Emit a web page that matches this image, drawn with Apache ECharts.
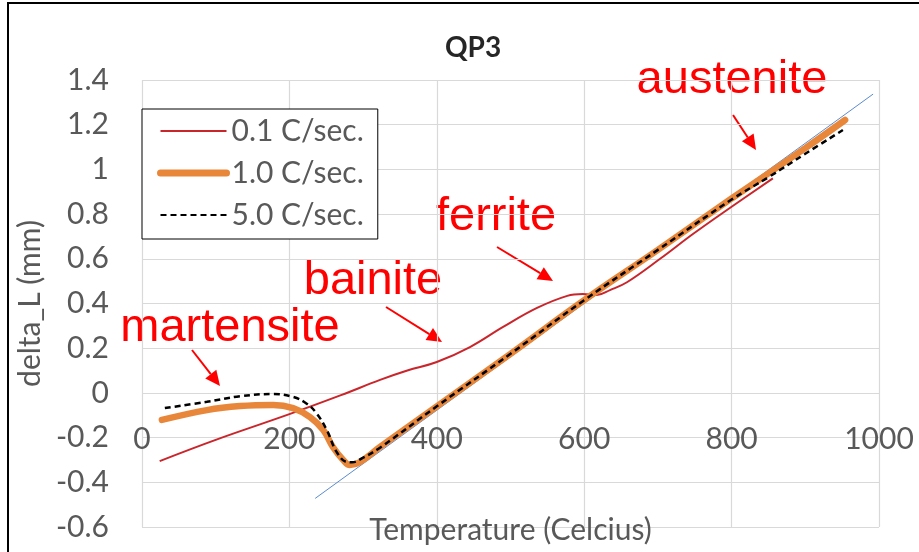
<!DOCTYPE html>
<html>
<head>
<meta charset="utf-8">
<script src="https://cdn.jsdelivr.net/npm/echarts@6/dist/echarts.min.js"></script>
<style>
  html, body { margin: 0; padding: 0; background: #fff; }
  #chart-container { width: 919px; height: 552px; }
</style>
</head>
<body>
<div id="chart-container"></div>
<script>
// [temperature, delta_L]
var rate01 = [
  [24, -0.305], [100, -0.21], [200, -0.095], [270, -0.01], [323, 0.058],
  [360, 0.1], [400, 0.138], [445, 0.205], [490, 0.295], [536, 0.38],
  [577, 0.434], [598, 0.442], [617, 0.438], [635, 0.46], [658, 0.495],
  [703, 0.6], [748, 0.712], [800, 0.833], [856, 0.96]
];
var rate10 = [
  [27, -0.121], [88, -0.077], [133, -0.059], [178, -0.054], [205, -0.068],
  [228, -0.108], [246, -0.166], [259, -0.242], [273, -0.3], [282, -0.323],
  [296, -0.309], [323, -0.242], [400, -0.06], [500, 0.175], [600, 0.415],
  [700, 0.64], [800, 0.87], [900, 1.095], [954, 1.221]
];
var rate50 = [
  [31, -0.068], [88, -0.04], [133, -0.015], [178, -0.005], [205, -0.018],
  [223, -0.047], [237, -0.092], [251, -0.168], [264, -0.264], [278, -0.309],
  [285, -0.31], [300, -0.29], [323, -0.245], [400, -0.06], [500, 0.175],
  [600, 0.415], [700, 0.64], [800, 0.865], [850, 0.965], [900, 1.07], [951, 1.176]
];
var refLine = [[235, -0.472], [992, 1.337]];
var seriesNames = ["0.1 C/sec.", "1.0 C/sec.", "5.0 C/sec."];

var dom = document.getElementById("chart-container");
var myChart = echarts.init(dom, null, { renderer: "canvas" });

var axisFont = "Lato";
var grey = "#595959";
var gridGrey = "#d9d9d9";

// red phase labels with arrows (pixel positions)
function arrow(x1, y1, x2, y2) {
  var ang = Math.atan2(y2 - y1, x2 - x1);
  var len = 15, half = 7;
  var bx = x2 - len * Math.cos(ang), by = y2 - len * Math.sin(ang);
  var px = -Math.sin(ang) * half, py = Math.cos(ang) * half;
  return [
    { type: "line", shape: { x1: x1, y1: y1, x2: bx, y2: by }, style: { stroke: "#ff0000", lineWidth: 2 } },
    { type: "polygon", shape: { points: [[x2, y2], [bx + px, by + py], [bx - px, by - py]] }, style: { fill: "#ff0000" } }
  ];
}
function label(txt, x, y) {
  return {
    type: "text", x: x, y: y,
    style: { text: txt, fill: "#ff0000", font: '47px "Liberation Sans"', align: "center", verticalAlign: "middle" }
  };
}

var graphics = [
  { type: "rect", shape: { x: 8, y: 3, width: 1000, height: 1000 }, style: { fill: null, stroke: "#000", lineWidth: 2 }, silent: true },
  label("austenite", 732, 80),
  label("ferrite", 496, 217),
  label("bainite", 373, 281),
  label("martensite", 230, 328)
]
  .concat(arrow(733, 115, 756, 150))
  .concat(arrow(497, 247, 553, 281))
  .concat(arrow(386, 307, 442, 342))
  .concat(arrow(192, 350, 220, 386));

var option = {
  animation: false,
  backgroundColor: "#fff",
  title: {
    text: "QP3",
    left: 440,
    top: 29,
    textStyle: { fontFamily: axisFont, fontWeight: "bold", fontSize: 28, color: "#262626" }
  },
  legend: {
    data: [
      { name: seriesNames[0], lineStyle: { width: 2 } },
      { name: seriesNames[1], lineStyle: { width: 7 } },
      { name: seriesNames[2], lineStyle: { width: 2 } }
    ],
    orient: "vertical",
    left: 142,
    top: 109,
    backgroundColor: "#fff",
    borderColor: "#000",
    borderWidth: 1,
    borderRadius: 0,
    padding: [7, 14, 9, 15],
    itemWidth: 66,
    itemHeight: 29,
    itemGap: 12,
    itemStyle: { opacity: 0 },
    textStyle: { fontFamily: axisFont, fontSize: 30, color: grey }
  },
  grid: { left: 142, top: 80, width: 737, height: 447, containLabel: false, outerBoundsMode: "none" },
  xAxis: {
    type: "value",
    position: "bottom",
    offset: -134,
    min: 0,
    max: 1000,
    interval: 200,
    name: "Temperature (Celcius)",
    nameLocation: "middle",
    nameGap: 122,
    nameTextStyle: { fontFamily: axisFont, fontSize: 30, color: grey },
    axisLine: { show: false, onZero: false },
    axisTick: { show: false },
    axisLabel: {
      fontFamily: axisFont, fontSize: 30, color: grey, margin: 31,
      formatter: function (v) { return String(v); }
    },
    splitLine: { show: true, lineStyle: { color: gridGrey, width: 1.2 } }
  },
  yAxis: {
    type: "value",
    min: -0.6,
    max: 1.4,
    interval: 0.2,
    name: "delta_L (mm)",
    nameLocation: "middle",
    nameGap: 94,
    nameTextStyle: { fontFamily: axisFont, fontSize: 30, color: grey },
    axisLine: { show: false },
    axisTick: { show: false },
    axisLabel: { fontFamily: axisFont, fontSize: 30, color: grey, margin: 33 },
    splitLine: { show: true, lineStyle: { color: gridGrey, width: 1.2 } }
  },
  series: [
    {
      name: "trend",
      type: "line",
      data: refLine,
      symbol: "none",
      lineStyle: { color: "#5b8bd0", width: 1 },
      z: 1
    },
    {
      name: seriesNames[0],
      type: "line",
      data: rate01,
      symbol: "none",
      smooth: 0.4,
      color: "#c9262c",
      lineStyle: { color: "#c9262c", width: 2 },
      z: 2
    },
    {
      name: seriesNames[1],
      type: "line",
      data: rate10,
      symbol: "none",
      smooth: 0.4,
      color: "#e8873a",
      lineStyle: { color: "#e8873a", width: 6.5, cap: "round" },
      z: 3
    },
    {
      name: seriesNames[2],
      type: "line",
      data: rate50,
      symbol: "none",
      smooth: 0.4,
      color: "#000",
      lineStyle: { color: "#000", width: 2.5, type: [6, 4] },
      z: 4
    }
  ],
  graphic: graphics
};

myChart.setOption(option);
window.addEventListener("resize", myChart.resize);
</script>
</body>
</html>
